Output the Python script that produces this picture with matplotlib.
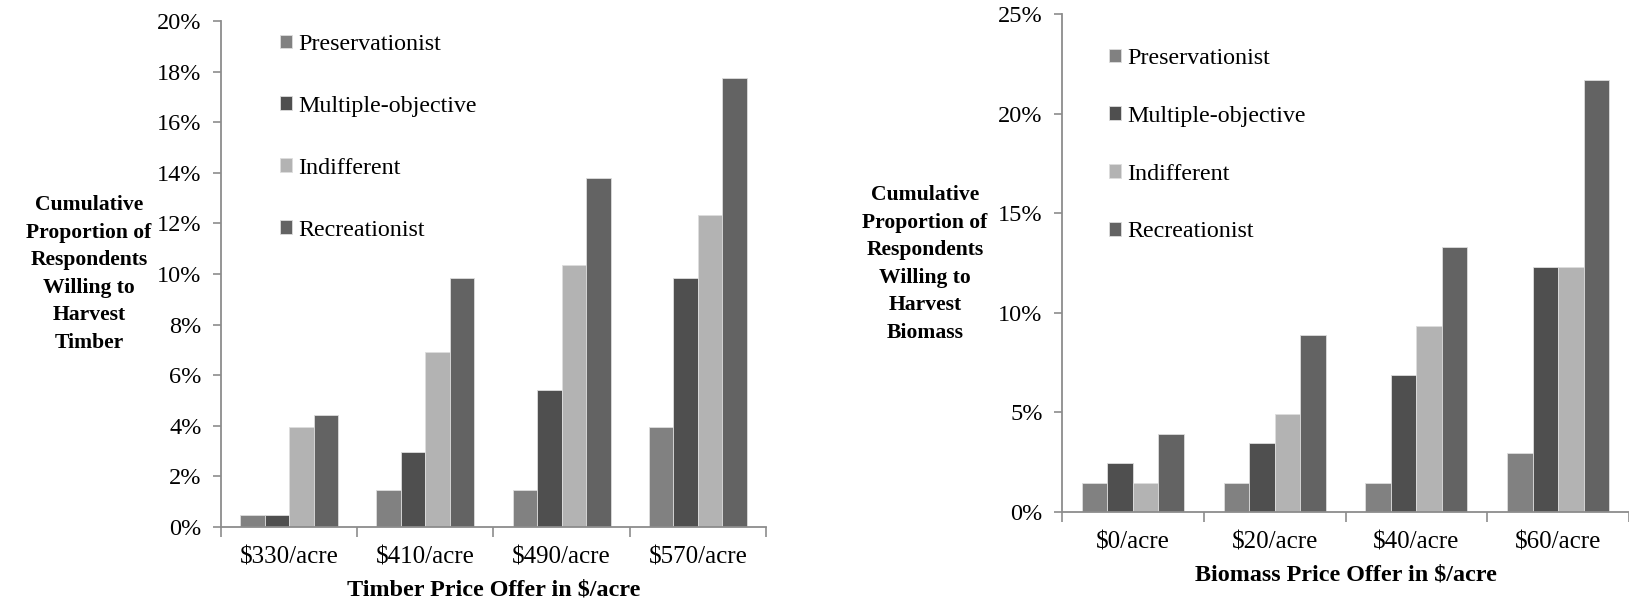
import matplotlib
matplotlib.use("Agg")
import matplotlib.pyplot as plt
import numpy as np
from matplotlib.ticker import FuncFormatter, FixedLocator

plt.rcParams['font.family'] = ['Liberation Serif', 'DejaVu Serif']

series = ["Preservationist", "Multiple-objective", "Indifferent", "Recreationist"]
colors = ["#818181", "#4f4f4f", "#b3b3b3", "#636363"]

timber_cats = ["$330/acre", "$410/acre", "$490/acre", "$570/acre"]
timber_vals = {
    "Preservationist":    [0.49, 1.48, 1.48, 3.94],
    "Multiple-objective": [0.49, 2.96, 5.42, 9.85],
    "Indifferent":        [3.94, 6.90, 10.34, 12.32],
    "Recreationist":      [4.43, 9.85, 13.79, 17.73],
}
biomass_cats = ["$0/acre", "$20/acre", "$40/acre", "$60/acre"]
biomass_vals = {
    "Preservationist":    [1.48, 1.48, 1.48, 2.96],
    "Multiple-objective": [2.46, 3.45, 6.90, 12.32],
    "Indifferent":        [1.48, 4.93, 9.36, 12.32],
    "Recreationist":      [3.94, 8.87, 13.30, 21.67],
}

W, H = 1629, 605
fig = plt.figure(figsize=(W/100, H/100), dpi=100)

def px_axes(x0, x1, ytop, ybot):
    return fig.add_axes([x0/W, 1-ybot/H, (x1-x0)/W, (ybot-ytop)/H])

FS_XT = 18
FS_YT = 17.5
FS_LEG = 17.3
FS_XL = 17.4
FS_YL = 15.6
spine_col = "#8c8c8c"

def draw(ax, cats, vals, ymax, ystep, xlabel, ylabel, ylab_xy, leg_xy, leg_spacing):
    n = len(series)
    x = np.arange(len(cats))
    bw = 0.72 / n
    for i, s in enumerate(series):
        ax.bar(x - 0.36 + bw*(i+0.5), vals[s], width=bw, color=colors[i],
               edgecolor="#dddddd", linewidth=0.6, label=s, zorder=2)
    ax.set_xlim(-0.5, len(cats)-0.5)
    ax.set_ylim(0, ymax)
    ax.set_yticks(np.arange(0, ymax+0.001, ystep))
    ax.yaxis.set_major_formatter(FuncFormatter(lambda v, p: f"{v:.0f}%"))
    ax.set_xticks(x)
    ax.set_xticklabels(cats)
    ax.xaxis.set_minor_locator(FixedLocator(np.arange(-0.5, len(cats), 1.0)))
    ax.tick_params(axis='x', which='major', length=0, pad=14, labelsize=FS_XT)
    ax.tick_params(axis='x', which='minor', length=7, width=1.2, color=spine_col, direction='out')
    ax.tick_params(axis='y', which='major', length=6, width=1.2, color=spine_col, direction='out', labelsize=FS_YT, pad=8)
    for sp in ['top', 'right']:
        ax.spines[sp].set_visible(False)
    for sp in ['left', 'bottom']:
        ax.spines[sp].set_color(spine_col)
        ax.spines[sp].set_linewidth(1.3)
    ax.set_xlabel(xlabel, fontsize=FS_XL, fontweight='bold', labelpad=8)
    fig.text(ylab_xy[0]/W, 1-ylab_xy[1]/H, ylabel, ha='center', va='center',
             fontsize=FS_YL, fontweight='bold', linespacing=1.5)
    ax.legend(loc='upper left', bbox_to_anchor=(leg_xy[0]/W, 1-leg_xy[1]/H),
              bbox_transform=fig.transFigure, frameon=False, fontsize=FS_LEG,
              handlelength=0.5, handleheight=0.5, handletextpad=0.25,
              labelspacing=leg_spacing, borderpad=0, borderaxespad=0)

axL = px_axes(221, 766, 21, 527)
draw(axL, timber_cats, timber_vals, 20, 2, "Timber Price Offer in $/acre",
     "Cumulative\nProportion of\nRespondents\nWilling to\nHarvest\nTimber",
     (89, 274), (280, 34), 1.7)

axR = px_axes(1062, 1629, 14, 512)
draw(axR, biomass_cats, biomass_vals, 25, 5, "Biomass Price Offer in $/acre",
     "Cumulative\nProportion of\nRespondents\nWilling to\nHarvest\nBiomass",
     (925, 264), (1109, 48), 1.53)

fig.savefig("out.png", dpi=100)
